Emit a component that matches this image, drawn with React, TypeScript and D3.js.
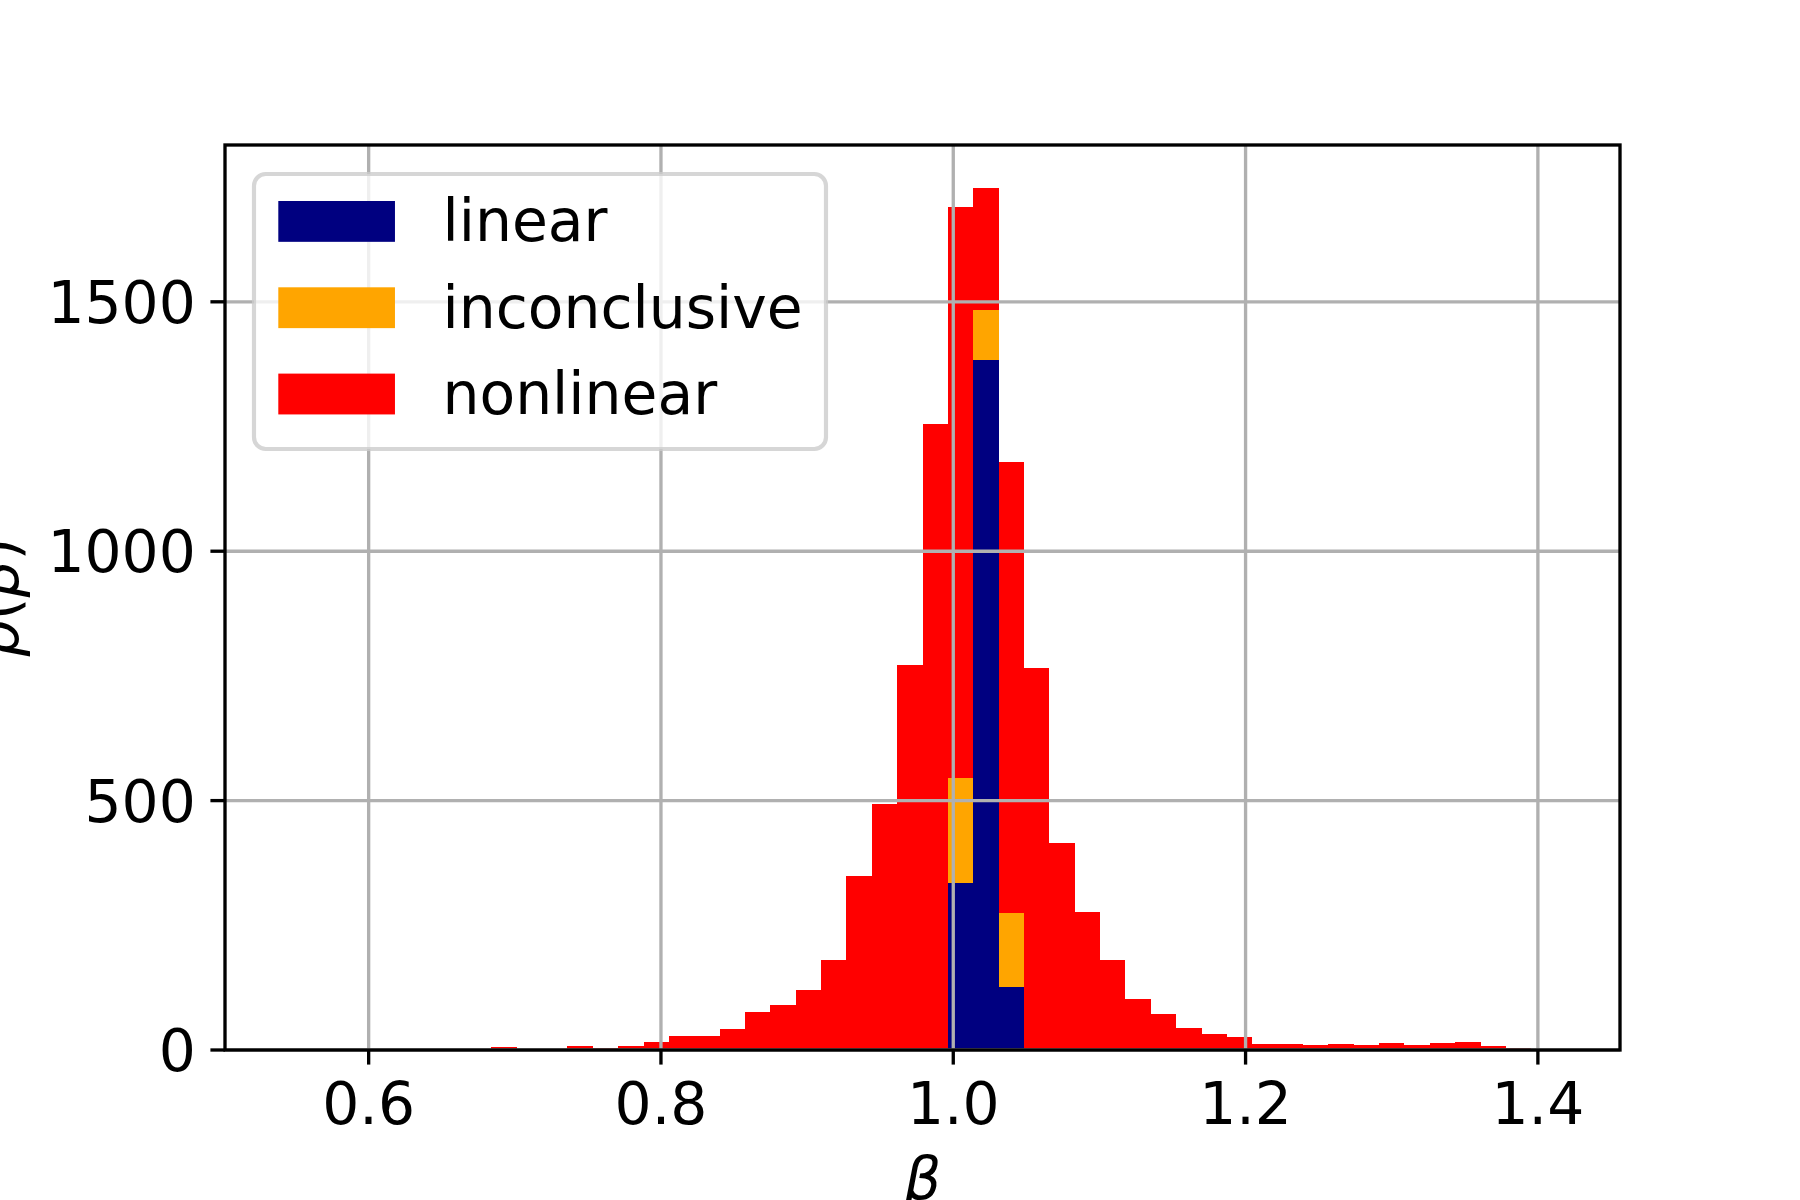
import React, { useEffect, useRef } from "react";
import * as d3 from "d3";

// 50 equal histogram bins between the smallest and largest beta
const binStart = 0.5451;
const binEnd = 1.4128;
const binCount = 50;

// counts per bin, stacked in this order (linear at the bottom)
const linearCounts = [
  0, 0, 0, 0, 0, 0, 0, 0, 0, 0,
  0, 0, 0, 0, 0, 0, 0, 0, 0, 0,
  0, 0, 0, 0, 0, 0, 335, 1384, 127, 0,
  0, 0, 0, 0, 0, 0, 0, 0, 0, 0,
  0, 0, 0, 0, 0, 0, 0, 0, 0, 0,
];
const inconclusiveCounts = [
  0, 0, 0, 0, 0, 0, 0, 0, 0, 0,
  0, 0, 0, 0, 0, 0, 0, 0, 0, 0,
  0, 0, 0, 0, 0, 0, 211, 100, 148, 0,
  0, 0, 0, 0, 0, 0, 0, 0, 0, 0,
  0, 0, 0, 0, 0, 0, 0, 0, 0, 0,
];
const nonlinearCounts = [
  1, 0, 0, 0, 0, 0, 0, 0, 7, 0,
  0, 9, 5, 9, 17, 29, 29, 43, 77, 91,
  121, 180, 349, 494, 772, 1255, 1144, 244, 904, 766,
  415, 277, 180, 103, 73, 45, 33, 27, 13, 13,
  10, 13, 11, 15, 11, 15, 17, 9, 5, 1,
];

const seriesNames = ["linear", "inconclusive", "nonlinear"];
const seriesColors = ["#000080", "#ffa500", "#ff0000"];

const xTicks = [0.6, 0.8, 1.0, 1.2, 1.4];
const yTicks = [0, 500, 1000, 1500];

const W = 1800;
const H = 1200;
const PT = 300 / 72; // figure was saved at 300 dpi
const FS = 14 * PT;
const plot = { left: 225, right: 1620, top: 145, bottom: 1050 };

function BetaHistogram() {
  const ref = useRef<SVGSVGElement | null>(null);

  useEffect(() => {
    document.body.style.margin = "0";
    if (!ref.current) return;
    const svg = d3.select(ref.current);
    svg.selectAll("*").remove();

    const binW = (binEnd - binStart) / binCount;
    const rows = linearCounts.map((_, i) => ({
      x0: binStart + i * binW,
      x1: binStart + (i + 1) * binW,
      linear: linearCounts[i],
      inconclusive: inconclusiveCounts[i],
      nonlinear: nonlinearCounts[i],
    }));

    const span = binEnd - binStart;
    const x = d3
      .scaleLinear()
      .domain([binStart - 0.05 * span, binEnd + 0.05 * span])
      .range([plot.left, plot.right]);

    const stacked = d3.stack<any>().keys(seriesNames)(rows);
    const top = d3.max(stacked[stacked.length - 1], (d) => d[1]) ?? 1;
    const y = d3.scaleLinear().domain([0, top * 1.05]).range([plot.bottom, plot.top]);

    svg.append("rect").attr("width", W).attr("height", H).attr("fill", "#fff");

    // bars
    stacked.forEach((layer, k) => {
      svg
        .append("g")
        .attr("fill", seriesColors[k])
        .attr("shape-rendering", "crispEdges")
        .selectAll("rect")
        .data(layer.filter((d) => d[1] > d[0]))
        .join("rect")
        .attr("x", (d: any) => x(d.data.x0))
        .attr("width", (d: any) => x(d.data.x1) - x(d.data.x0))
        .attr("y", (d) => y(d[1]))
        .attr("height", (d) => y(d[0]) - y(d[1]));
    });

    // grid drawn above the bars
    const grid = svg.append("g").attr("stroke", "#b0b0b0").attr("stroke-width", 0.8 * PT);
    grid
      .selectAll("line.gx")
      .data(xTicks)
      .join("line")
      .attr("x1", (d) => x(d))
      .attr("x2", (d) => x(d))
      .attr("y1", plot.top)
      .attr("y2", plot.bottom);
    grid
      .selectAll("line.gy")
      .data(yTicks)
      .join("line")
      .attr("class", "gy")
      .attr("x1", plot.left)
      .attr("x2", plot.right)
      .attr("y1", (d) => y(d))
      .attr("y2", (d) => y(d));

    // spines
    svg
      .append("rect")
      .attr("x", plot.left)
      .attr("y", plot.top)
      .attr("width", plot.right - plot.left)
      .attr("height", plot.bottom - plot.top)
      .attr("fill", "none")
      .attr("stroke", "#000")
      .attr("stroke-width", 0.8 * PT);

    const tickLen = 3.5 * PT;
    const font = "'DejaVu Sans', sans-serif";

    const xt = svg.append("g");
    xt.selectAll("line")
      .data(xTicks)
      .join("line")
      .attr("x1", (d) => x(d))
      .attr("x2", (d) => x(d))
      .attr("y1", plot.bottom)
      .attr("y2", plot.bottom + tickLen)
      .attr("stroke", "#000")
      .attr("stroke-width", 0.8 * PT);
    xt.selectAll("text")
      .data(xTicks)
      .join("text")
      .attr("x", (d) => x(d))
      .attr("y", plot.bottom + 74)
      .attr("text-anchor", "middle")
      .attr("font-family", font)
      .attr("font-size", FS)
      .text((d) => d3.format(".1f")(d));

    const yt = svg.append("g");
    yt.selectAll("line")
      .data(yTicks)
      .join("line")
      .attr("x1", plot.left - tickLen)
      .attr("x2", plot.left)
      .attr("y1", (d) => y(d))
      .attr("y2", (d) => y(d))
      .attr("stroke", "#000")
      .attr("stroke-width", 0.8 * PT);
    yt.selectAll("text")
      .data(yTicks)
      .join("text")
      .attr("x", plot.left - 2 * tickLen)
      .attr("y", (d) => y(d) + 21)
      .attr("text-anchor", "end")
      .attr("font-family", font)
      .attr("font-size", FS)
      .text((d) => String(d));

    // axis labels (both partly cut by the figure edge, as in the saved figure)
    svg
      .append("text")
      .attr("x", (plot.left + plot.right) / 2)
      .attr("y", 1199)
      .attr("text-anchor", "middle")
      .attr("font-family", font)
      .attr("font-size", FS)
      .attr("font-style", "italic")
      .text("β");

    const yl = svg
      .append("text")
      .attr("transform", `translate(18,${(plot.top + plot.bottom) / 2}) rotate(-90)`)
      .attr("text-anchor", "middle")
      .attr("font-family", font)
      .attr("font-size", FS);
    yl.append("tspan").attr("font-style", "italic").text("ρ");
    yl.append("tspan").text("(");
    yl.append("tspan").attr("font-style", "italic").text("β");
    yl.append("tspan").text(")");

    // legend
    const lg = svg.append("g");
    lg.append("rect")
      .attr("x", 254)
      .attr("y", 174)
      .attr("width", 572)
      .attr("height", 275)
      .attr("rx", 11.7)
      .attr("fill", "#fff")
      .attr("fill-opacity", 0.8)
      .attr("stroke", "#cccccc")
      .attr("stroke-opacity", 0.8)
      .attr("stroke-width", PT);
    seriesNames.forEach((name, k) => {
      const cy = 221.4 + k * 86.3;
      lg.append("rect")
        .attr("x", 278.3)
        .attr("y", cy - 20.4)
        .attr("width", 2 * FS)
        .attr("height", 0.7 * FS)
        .attr("fill", seriesColors[k]);
      lg.append("text")
        .attr("x", 442.5)
        .attr("y", cy + 20)
        .attr("font-family", font)
        .attr("font-size", FS)
        .text(name);
    });
  }, []);

  return <svg ref={ref} width={W} height={H} style={{ display: "block" }} />;
}

export default function App() {
  return <BetaHistogram />;
}
